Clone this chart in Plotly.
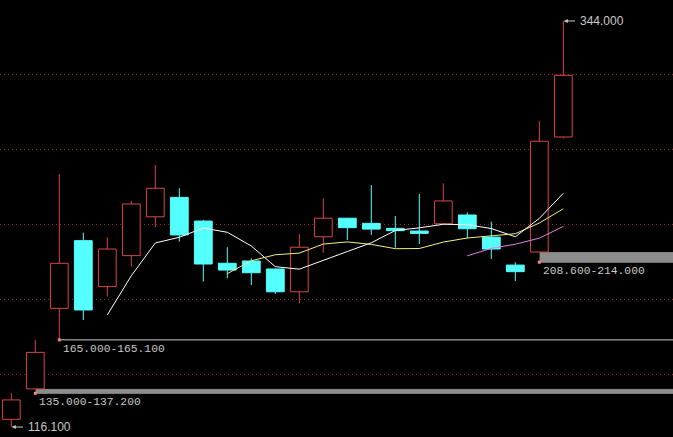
import plotly.graph_objects as go

# 日K数据
opens = [120.4, 137.5, 182.7, 220.7, 194.9, 212.3, 234.1, 245.0, 231.7, 208.0, 209.3, 204.8,
         192.0, 222.9, 233.3, 230.4, 227.6, 226.1, 230.2, 235.1, 222.7, 207.0, 214.3, 278.9]
highs = [135.0, 165.0, 258.1, 225.2, 222.6, 243.0, 263.2, 250.1, 232.3, 217.0, 210.8, 205.0,
         224.4, 244.5, 233.5, 251.9, 234.5, 246.9, 252.9, 236.6, 231.3, 208.6, 287.9, 344.0]
lows = [116.1, 137.2, 165.1, 176.2, 189.3, 206.1, 228.2, 220.1, 197.7, 199.6, 195.8, 190.8,
        185.5, 214.0, 221.1, 223.9, 216.8, 218.8, 230.0, 222.0, 210.4, 198.0, 214.0, 278.1]
closes = [131.3, 158.0, 208.0, 181.8, 216.0, 241.3, 250.1, 223.9, 207.6, 204.2, 202.7, 192.0,
          217.0, 233.3, 228.0, 227.2, 226.3, 224.8, 243.0, 227.4, 216.0, 203.3, 276.5, 313.5]

# 均线
ma5 = [None] * 4 + [179.0, 201.0, 219.4, 222.6, 227.8, 225.4, 217.7, 206.1, 204.7, 209.8,
                    214.6, 219.5, 226.4, 227.9, 229.9, 229.7, 227.5, 222.9, 233.2, 247.3]
ma10 = [None] * 9 + [202.2, 209.4, 212.8, 213.7, 218.8, 220.0, 218.6, 216.2, 216.3, 219.9,
                     222.2, 223.5, 224.6, 230.6, 238.6]
ma20 = [None] * 19 + [212.2, 216.4, 218.7, 222.1, 228.7]

# 缺口 (K线序号, 下沿, 上沿)
gaps = [(1, 135.0, 137.2), (2, 165.0, 165.1), (22, 208.6, 214.0)]
grid_levels = [145.3, 187.4, 229.5, 271.6, 313.7]

UP = '#d8473f'
DOWN = '#54ffff'
TXT = '#c8c8c8'
idx = list(range(len(opens)))

fig = go.Figure()

# 影线
for color, cond in [(UP, lambda o, c: c >= o), (DOWN, lambda o, c: c < o)]:
    xs, ys = [], []
    for i in idx:
        o, c = opens[i], closes[i]
        if not cond(o, c):
            continue
        top, bot = max(o, c), min(o, c)
        xs += [i, i, None, i, i, None]
        ys += [highs[i], top, None, bot, lows[i], None]
    fig.add_trace(go.Scatter(x=xs, y=ys, mode='lines', line=dict(color=color, width=1),
                             hoverinfo='skip'))

# 实体
up_i = [i for i in idx if closes[i] >= opens[i]]
dn_i = [i for i in idx if closes[i] < opens[i]]
fig.add_trace(go.Bar(x=up_i, base=[opens[i] for i in up_i],
                     y=[closes[i] - opens[i] for i in up_i], width=0.74,
                     marker=dict(color='black', line=dict(color=UP, width=1))))
fig.add_trace(go.Bar(x=dn_i, base=[closes[i] for i in dn_i],
                     y=[opens[i] - closes[i] for i in dn_i], width=0.74,
                     marker=dict(color=DOWN, line=dict(color=DOWN, width=1))))

fig.add_trace(go.Scatter(x=idx, y=ma5, mode='lines', line=dict(color='white', width=1)))
fig.add_trace(go.Scatter(x=idx, y=ma10, mode='lines', line=dict(color='#f0f080', width=1)))
fig.add_trace(go.Scatter(x=idx, y=ma20, mode='lines', line=dict(color='#e080e8', width=1)))

# 缺口标注
for i, lo, hi in gaps:
    fig.add_shape(type='rect', xref='x', yref='y', x0=i + 0.03, x1=30, y0=lo, y1=hi,
                  fillcolor='#8c8c8c', line=dict(color='#8c8c8c', width=1), layer='below')
    fig.add_annotation(x=i, y=lo, text=f'{lo:.3f}-{hi:.3f}', showarrow=False,
                       xanchor='left', yanchor='top', xshift=2, yshift=-1,
                       font=dict(family='Liberation Mono', size=11.3, color=TXT))
fig.add_trace(go.Scatter(x=[g[0] for g in gaps], y=[g[1] for g in gaps], mode='markers',
                         marker=dict(color='#ff8080', size=3, symbol='square')))

# 最高/最低价
for i, v in [(0, lows[0]), (23, highs[23])]:
    fig.add_annotation(x=i + 0.02, y=v, ax=i + 0.55, ay=v, xref='x', yref='y',
                       axref='x', ayref='y', text='', showarrow=True, arrowhead=2,
                       arrowsize=0.8, arrowwidth=1, arrowcolor=TXT)
    fig.add_annotation(x=i + 0.6, y=v, text=f'{v:.3f}', showarrow=False, xanchor='left',
                       font=dict(family='Liberation Sans', size=12, color=TXT))

fig.update_layout(
    width=673, height=437, margin=dict(l=0, r=0, t=0, b=0),
    paper_bgcolor='black', plot_bgcolor='black', showlegend=False,
    barmode='overlay',
)
fig.update_xaxes(range=[-0.471, 27.57], visible=False)
fig.update_yaxes(range=[110.49, 355.79], tickvals=grid_levels, showticklabels=False,
                 gridcolor='#a02020', griddash='1px,3px', gridwidth=1, zeroline=False)

fig.write_html('out.html', config={'displayModeBar': False},
               post_script="document.body.style.margin='0';"
                           "document.body.style.overflow='hidden';"
                           "document.body.style.background='black';")
